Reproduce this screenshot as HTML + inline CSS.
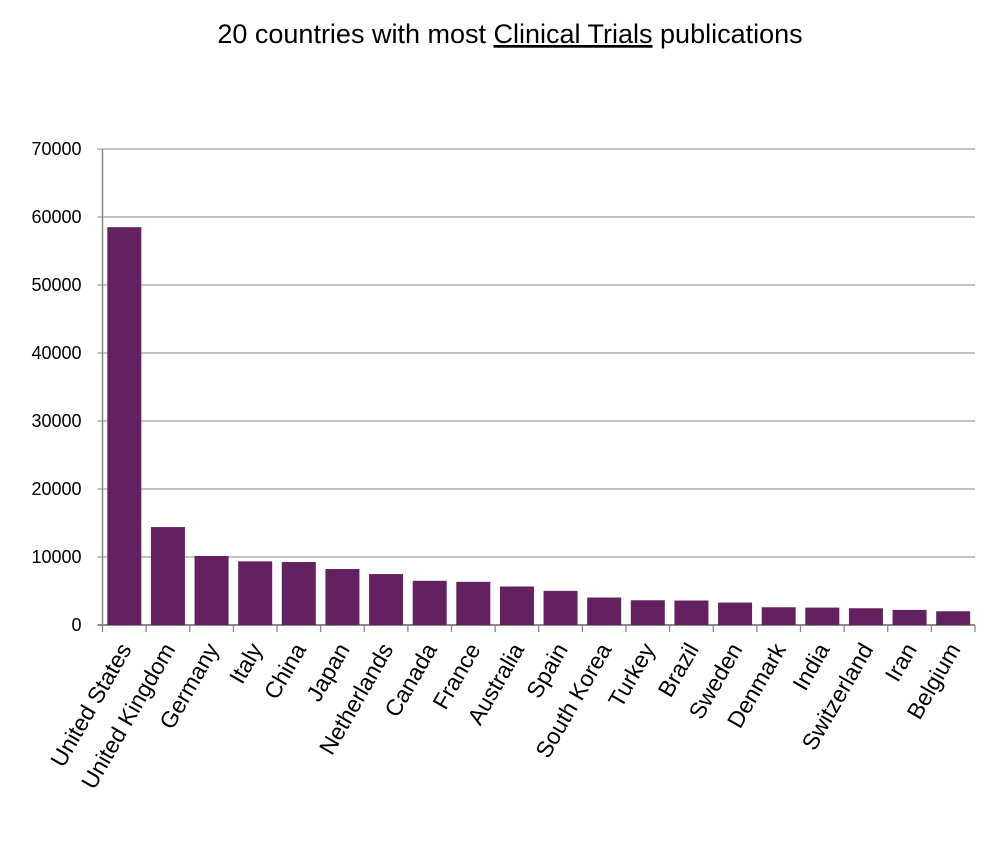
<!DOCTYPE html>
<html><head><meta charset="utf-8"><style>
body{margin:0;background:#fff;font-family:"Liberation Sans",sans-serif}
</style></head><body>
<svg id="chart" width="1000" height="846" xmlns="http://www.w3.org/2000/svg" font-family="Liberation Sans, sans-serif">
<text x="510" y="43" text-anchor="middle" font-size="27" fill="#000">20 countries with most <tspan text-decoration="underline">Clinical Trials</tspan> publications</text>
<g id="grid"></g><g id="bars"></g><g id="xlabels"></g><g id="ylabels"></g>
</svg>
<script>
const categories=["United States","United Kingdom","Germany","Italy","China","Japan","Netherlands","Canada","France","Australia","Spain","South Korea","Turkey","Brazil","Sweden","Denmark","India","Switzerland","Iran","Belgium"];
const values=[58500,14400,10150,9360,9260,8230,7490,6500,6350,5660,5020,4040,3640,3600,3300,2610,2560,2460,2220,2020];
const yTicks=[0,10000,20000,30000,40000,50000,60000,70000];
const x0=102.5,x1=975,yBase=625,yTop=149,yMax=70000;
const NS="http://www.w3.org/2000/svg";
const bw=(x1-x0)/categories.length;
const y=v=>yBase-(v/yMax)*(yBase-yTop);
function mk(t,a,p){const e=document.createElementNS(NS,t);for(const k in a)e.setAttribute(k,a[k]);p.appendChild(e);return e;}
const g=document.getElementById('grid'),b=document.getElementById('bars'),xl=document.getElementById('xlabels'),yl=document.getElementById('ylabels');
yTicks.forEach(t=>{
 const l=mk('line',{x1:x0-5,x2:x1,y1:y(t),y2:y(t),stroke:t===0?'#888':'#a0a0a0','stroke-width':t===0?2:1.3},g);
 
 
 const tx=mk('text',{x:x0-21,y:y(t)+6,'text-anchor':'end','font-size':18,fill:'#000'},yl);
 tx.textContent=t;
 
 
});
const ax=mk('line',{x1:x0,x2:x0,y1:yTop,y2:yBase,stroke:'#888','stroke-width':1.5},g);


for(let i=0;i<=categories.length;i++){
 const tk=mk('line',{x1:x0+i*bw,x2:x0+i*bw,y1:yBase,y2:yBase+7,stroke:'#888','stroke-width':1.3},g);
 
 
}
categories.forEach((c,i)=>{
 const cx=x0+i*bw+bw/2;
 const r=mk('rect',{x:cx-17,y:y(values[i]),width:34,height:yBase-y(values[i]),fill:'#642162'},b);
 
 
 const t=mk('text',{x:cx+8,y:yBase+24,'text-anchor':'end','font-size':23,fill:'#000',transform:`rotate(-60 ${cx+8} ${yBase+24})`},xl);
 t.textContent=c;
 
 
});
</script>
</body></html>
